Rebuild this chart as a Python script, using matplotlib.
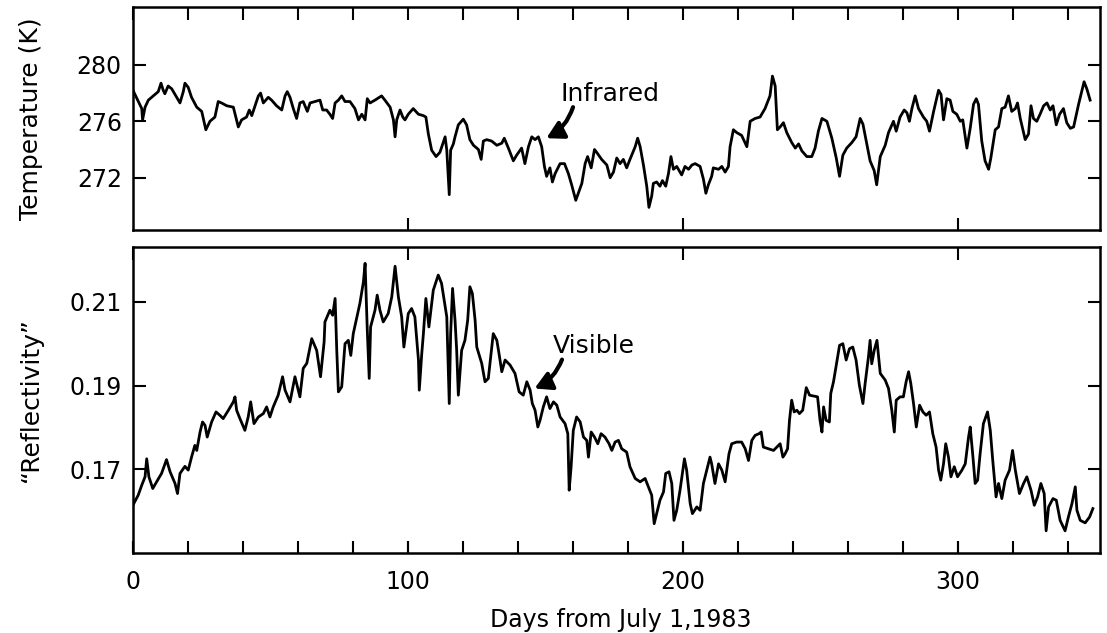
import matplotlib
matplotlib.use("Agg")
import matplotlib.pyplot as plt

# Infrared temperature (K)
ir_day = [
    0.0, 3.2, 3.5, 4.4, 5.6, 7.4, 9.2, 10.2, 11.0, 11.6,
    12.8, 14.1, 15.9, 17.1, 18.3, 18.9, 20.1, 21.3, 23.2, 25.0,
    26.5, 28.0, 29.8, 31.0, 32.2, 34.1, 36.5, 38.3, 39.5, 41.3,
    42.3, 43.2, 44.4, 45.6, 46.4, 47.4, 49.2, 50.4, 52.2, 54.1,
    55.3, 56.1, 57.1, 58.3, 59.5, 60.7, 61.9, 63.4, 64.4, 66.2,
    68.0, 69.0, 70.4, 71.6, 72.6, 73.5, 74.7, 75.9, 77.1, 78.9,
    80.7, 82.0, 83.2, 84.4, 85.2, 86.2, 88.0, 90.4, 91.6, 93.5,
    94.7, 95.3, 95.9, 97.1, 98.1, 98.9, 100.1, 101.9, 103.8, 105.6,
    106.5, 107.4, 108.6, 110.2, 111.6, 113.5, 114.1, 115.0, 115.5, 116.5,
    117.1, 118.3, 120.1, 121.3, 122.5, 123.8, 125.6, 126.6, 127.4, 128.6,
    130.4, 132.3, 134.1, 135.0, 136.5, 138.3, 139.5, 141.3, 142.5, 143.8,
    145.0, 146.2, 147.4, 148.6, 149.6, 150.4, 151.6, 152.5, 153.5, 155.3,
    156.9, 158.3, 159.5, 161.0, 161.9, 163.2, 164.4, 165.3, 166.6, 167.8,
    168.6, 170.4, 172.3, 173.5, 174.7, 175.9, 177.1, 178.3, 179.5, 180.7,
    182.6, 183.5, 184.4, 185.6, 186.8, 187.6, 188.6, 189.2, 190.4, 191.6,
    192.5, 193.7, 194.7, 195.6, 196.5, 197.7, 199.5, 200.7, 202.0, 203.2,
    204.4, 206.2, 207.4, 208.3, 209.2, 210.4, 211.0, 212.9, 214.1, 215.3,
    216.5, 217.1, 218.3, 219.5, 221.3, 223.2, 224.4, 226.2, 228.0, 229.8,
    231.6, 232.5, 233.5, 234.3,
    235.3, 236.5, 237.7, 239.5, 240.8, 242.0, 243.2, 245.0, 246.8, 248.0,
    249.2, 250.5, 252.3, 254.1, 255.7, 256.9, 258.1, 259.5, 261.4, 262.9,
    264.4, 265.4, 266.6, 268.0, 269.5, 270.4, 271.7, 273.5, 274.7, 276.5,
    277.5, 278.9, 280.4, 281.4, 282.3, 283.2, 284.4, 285.6, 287.4, 288.6,
    289.6, 291.1, 292.9, 293.8, 294.7, 295.9, 297.1, 298.1, 299.5, 300.8,
    301.7, 303.2, 304.4, 305.6, 306.6, 307.4, 308.6, 309.8, 311.1, 311.9,
    313.5, 314.7, 315.9, 317.1, 318.3, 319.5, 320.8, 321.6, 322.6, 324.4,
    325.6, 326.5, 327.4, 328.6, 329.8, 331.1, 332.3, 333.5, 334.5, 335.7,
    336.9, 338.3, 339.5, 340.8, 342.0, 343.8, 345.8, 346.8, 348.0,
]
ir_temp = [
    278.2, 276.9, 276.1, 277.0, 277.5, 277.8, 278.1, 278.7, 278.2, 277.95,
    278.5, 278.3, 277.7, 277.3, 278.1, 278.7, 278.4, 277.7, 277.0, 276.7,
    275.4, 276.0, 276.3, 277.4, 277.3, 277.1, 277.0, 275.6, 276.1, 276.3,
    276.8, 276.4, 277.1, 277.8, 278.0, 277.3, 277.7, 277.5, 277.1, 276.8,
    277.8, 278.1, 277.7, 276.9, 276.2, 277.3, 277.4, 276.7, 277.3, 277.4,
    277.5, 276.8, 276.8, 276.5, 276.2, 277.3, 277.5, 277.8, 277.4, 277.4,
    276.9, 276.1, 276.5, 276.1, 277.6, 277.3, 277.5, 277.8, 277.5, 277.0,
    276.1, 274.9, 276.1, 276.8, 276.3, 276.1, 276.5, 276.9, 276.5, 276.4,
    276.3, 275.1, 273.95, 273.5, 273.8, 274.9, 273.95, 270.8, 273.95, 274.4,
    274.9, 275.75, 276.15, 275.75, 274.7, 274.3, 274.0, 273.3, 274.6, 274.7,
    274.6, 274.3, 274.45, 274.8, 274.1, 273.2, 273.6, 274.1, 273.0, 274.2,
    274.9, 274.7, 274.9, 274.2, 272.8, 272.1, 272.7, 271.7, 272.3, 273.0,
    273.0, 272.3, 271.5, 270.4, 270.9, 271.6, 273.0, 273.5, 272.7, 274.0,
    273.8, 273.3, 272.9, 272.0, 272.4, 273.4, 273.0, 273.3, 272.7, 273.3,
    274.2, 274.8, 274.2, 272.9, 271.4, 269.9, 270.7, 271.6, 271.7, 271.4,
    271.8, 271.4, 272.3, 273.5, 272.6, 272.8, 272.2, 272.8, 272.6, 272.9,
    273.0, 272.8, 271.9, 270.9, 271.5, 272.1, 272.7, 272.6, 272.8, 272.4,
    272.8, 274.2, 275.4, 275.2, 275.0, 274.2, 276.0, 276.2, 276.3, 276.9,
    277.8, 279.2, 278.5, 275.4,
    275.6, 275.9, 275.2, 274.5, 274.1, 274.4, 273.9, 273.5, 273.5, 274.1,
    275.3, 276.2, 276.0, 274.8, 273.4, 272.1, 273.6, 274.1, 274.5, 274.9,
    276.2, 275.8, 274.6, 273.2, 272.5, 271.5, 273.5, 274.3, 275.2, 276.0,
    275.3, 276.3, 276.8, 276.6, 276.0, 276.9, 277.8, 276.9, 276.3, 276.0,
    275.3, 276.7, 278.2, 277.9, 276.1, 277.6, 277.5, 276.7, 276.5, 276.0,
    276.1, 274.1, 275.5, 277.2, 277.6, 277.2, 274.6, 273.2, 272.6, 273.4,
    275.4, 275.6, 276.9, 277.0, 277.8, 276.7, 276.9, 277.3, 276.2, 274.7,
    275.1, 277.1, 276.2, 276.0, 276.5, 277.1, 277.3, 276.8, 277.1, 275.75,
    276.5, 276.9, 275.9, 275.5, 275.6, 277.2, 278.8, 278.3, 277.5,
]

# Visible "reflectivity"
vis_day = [
    0.3, 1.9, 3.2, 4.4, 5.0, 5.8, 7.2, 8.6, 10.4, 12.2,
    13.5, 15.3, 16.2, 17.1, 18.9, 20.1, 21.3, 22.5, 23.2, 24.4,
    25.3, 26.2, 27.0, 28.6, 30.2, 31.6, 32.8, 34.7, 36.5, 37.1,
    37.7, 38.9, 40.7, 41.9, 42.8, 44.0, 45.6, 47.4, 48.6, 49.8,
    51.0, 52.8, 54.4, 55.3, 57.1, 58.9, 60.7, 61.9, 63.2, 65.0,
    66.8, 68.2, 69.5, 69.8, 71.6, 72.6, 73.5, 74.1, 74.7, 75.9,
    77.1, 78.3, 79.2, 80.1, 82.5, 83.8, 84.4, 85.2, 85.9, 86.4,
    88.0, 88.8, 89.8, 91.0, 92.8, 94.1, 95.3, 96.5, 97.7, 98.5,
    100.1, 101.3, 102.5, 103.8, 104.1, 105.0, 105.6, 106.5, 107.6, 109.2,
    111.0, 112.2, 114.1, 115.0, 115.5, 116.2,
    117.1, 117.7, 118.3, 119.5, 120.7, 121.7, 122.5, 123.4, 124.4, 125.0,
    126.8, 128.0, 129.2, 130.2, 131.0, 132.3, 133.1, 134.1, 135.3, 137.1,
    138.9, 140.4, 141.9, 143.2, 144.4, 145.2, 146.2, 147.2, 148.0, 149.2,
    150.4, 151.6, 152.9, 154.1, 155.3, 157.1, 158.1, 158.6, 159.3, 160.1,
    161.3, 162.6, 163.8, 165.0, 165.6, 166.6, 167.8, 169.0, 170.2, 171.6,
    173.1, 174.1, 175.3, 176.5, 177.7, 179.5, 180.7, 182.6, 184.4, 186.2,
    187.4, 188.6, 189.5, 190.4, 191.6, 192.9, 193.7, 194.9, 195.9, 196.7,
    197.7, 198.9, 200.5, 201.3, 202.6, 203.4, 205.0, 206.2, 207.4, 208.6,
    209.8, 210.4, 211.6, 212.9, 214.1, 215.3, 216.7, 217.7, 219.5, 221.3,
    222.6, 223.8, 225.0, 226.2, 227.6, 228.4, 229.2, 231.0, 232.9, 234.1,
    235.3, 236.3, 237.1, 238.0, 238.7, 239.5, 240.4, 241.4, 242.3, 243.5,
    244.8, 246.0, 247.4, 248.9, 249.8, 250.5, 251.1, 252.0, 253.2, 253.7,
    254.7, 255.7, 256.9, 258.1, 259.3, 260.5, 261.7, 262.9, 264.1, 265.4,
    266.2, 267.4, 268.0, 268.6, 269.5, 270.5, 271.7, 273.5, 274.7, 275.9,
    276.8, 277.5, 278.9, 280.1, 281.1, 282.0, 282.8, 283.8, 284.8, 286.0,
    287.2, 288.4, 289.6, 290.8, 292.0, 292.9, 293.7, 294.7, 295.5, 296.5,
    297.4, 298.6, 299.8, 301.4, 302.6, 303.8, 304.4, 305.4, 306.2, 307.1,
    308.0, 309.2, 310.7, 311.7, 312.6, 313.8, 314.7, 315.9, 317.1, 318.7,
    319.8, 320.8, 322.3, 323.8, 325.0, 326.5, 327.7, 328.9, 330.1, 331.3,
    332.0, 332.9, 334.5, 335.7, 337.1, 338.9, 340.1, 341.4, 342.6, 343.2,
    344.4, 346.2, 347.8, 349.0,
]
vis_refl = [
    0.1618, 0.1638, 0.1662, 0.1682, 0.1725, 0.1682, 0.1654, 0.1670, 0.1690, 0.1723,
    0.1694, 0.1666, 0.1642, 0.1690, 0.1707, 0.1698, 0.1729, 0.1757, 0.1745, 0.1789,
    0.1813, 0.1805, 0.1777, 0.1813, 0.1837, 0.1829, 0.1821, 0.1841, 0.1861, 0.1873,
    0.1841, 0.1821, 0.1793, 0.1825, 0.1861, 0.1809, 0.1825, 0.1833, 0.1849, 0.1825,
    0.1849, 0.1877, 0.1921, 0.1889, 0.1861, 0.1921, 0.1873, 0.1941, 0.1953, 0.2012,
    0.1984, 0.1921, 0.2004, 0.2052, 0.2080, 0.2068, 0.2108, 0.1984, 0.1885, 0.1897,
    0.2000, 0.2008, 0.1972, 0.2024, 0.2096, 0.2148, 0.2192, 0.2032, 0.1917, 0.2040,
    0.2080, 0.2116, 0.2080, 0.2052, 0.2072, 0.2112, 0.2185, 0.2112, 0.2064, 0.1992,
    0.2072, 0.2084, 0.2064, 0.1961, 0.1889, 0.1976, 0.2024, 0.2108, 0.2040, 0.2128,
    0.2164, 0.2144, 0.2064, 0.1857, 0.2024, 0.2132,
    0.2056, 0.1984, 0.1877, 0.1984, 0.2008, 0.2056, 0.2136, 0.2120, 0.2056, 0.1992,
    0.1953, 0.1909, 0.1917, 0.1976, 0.2024, 0.2008, 0.1976, 0.1933, 0.1961, 0.1949,
    0.1929, 0.1885, 0.1877, 0.1909, 0.1889, 0.1857, 0.1841, 0.1801, 0.1817, 0.1849,
    0.1873, 0.1845, 0.1861, 0.1853, 0.1825, 0.1809, 0.1785, 0.1650, 0.1706, 0.1793,
    0.1825, 0.1813, 0.1777, 0.1769, 0.1729, 0.1789, 0.1777, 0.1761, 0.1785, 0.1777,
    0.1761, 0.1745, 0.1765, 0.1769, 0.1749, 0.1741, 0.1706, 0.1678, 0.1670, 0.1678,
    0.1658, 0.1638, 0.1570, 0.1594, 0.1626, 0.1646, 0.1690, 0.1694, 0.1666, 0.1578,
    0.1602, 0.1650, 0.1725, 0.1698, 0.1618, 0.1594, 0.1610, 0.1602, 0.1666, 0.1698,
    0.1729, 0.1713, 0.1666, 0.1713, 0.1698, 0.1670, 0.1737, 0.1761, 0.1765, 0.1765,
    0.1749, 0.1721, 0.1769, 0.1781, 0.1785, 0.1789, 0.1753, 0.1749, 0.1745, 0.1753,
    0.1761, 0.1729, 0.1737, 0.1749, 0.1817, 0.1865, 0.1837, 0.1841, 0.1833, 0.1841,
    0.1895, 0.1877, 0.1875, 0.1873, 0.1817, 0.1789, 0.1849, 0.1817, 0.1813, 0.1881,
    0.1909, 0.1949, 0.1996, 0.2000, 0.1961, 0.1988, 0.1992, 0.1961, 0.1901, 0.1857,
    0.1905, 0.1968, 0.2008, 0.1952, 0.1984, 0.2008, 0.1929, 0.1913, 0.1893, 0.1841,
    0.1789, 0.1865, 0.1873, 0.1873, 0.1909, 0.1933, 0.1905, 0.1857, 0.1801, 0.1853,
    0.1837, 0.1829, 0.1837, 0.1785, 0.1753, 0.1698, 0.1674, 0.1713, 0.1761, 0.1729,
    0.1682, 0.1706, 0.1682, 0.1698, 0.1713, 0.1777, 0.1801, 0.1729, 0.1666, 0.1674,
    0.1737, 0.1809, 0.1837, 0.1793, 0.1721, 0.1634, 0.1666, 0.1630, 0.1674, 0.1698,
    0.1745, 0.1698, 0.1642, 0.1666, 0.1682, 0.1650, 0.1614, 0.1634, 0.1666, 0.1642,
    0.1553, 0.1610, 0.1630, 0.1626, 0.1578, 0.1553, 0.1586, 0.1618, 0.1658, 0.1602,
    0.1578, 0.1572, 0.1586, 0.1606,
]

temp_ticks = [272, 276, 280]
refl_ticks = [0.17, 0.19, 0.21]
day_ticks = [0, 100, 200, 300]
day_minor = list(range(0, 352, 20))

fig = plt.figure(figsize=(11.07, 6.33), dpi=100)
ax1 = fig.add_axes([0.1201, 0.6367, 0.8736, 0.3523])
ax2 = fig.add_axes([0.1201, 0.1264, 0.8736, 0.4834])

for ax in (ax1, ax2):
    for sp in ax.spines.values():
        sp.set_linewidth(1.8)
    ax.set_xlim(0, 351.6)
    ax.xaxis.remove_overlapping_locs = False
    ax.tick_params(which="both", direction="in", width=1.5, length=9,
                   labelsize=17, left=True, right=True)
    ax.tick_params(axis="y", pad=8)

# curved pointer arrows from the labels to the curves
arrow_style = dict(arrowstyle="-|>,head_length=0.5,head_width=0.28",
                   connectionstyle="arc3,rad=-0.2", lw=3,
                   color="black", mutation_scale=20, shrinkA=0, shrinkB=0)

# top panel
ax1.plot(ir_day, ir_temp, color="black", lw=2.0)
ax1.set_ylim(268.3, 284.1)
ax1.set_yticks(temp_ticks)
ax1.set_xticks(day_ticks[1:])
ax1.set_xticks(day_minor, minor=True)
ax1.tick_params(axis="x", which="major", bottom=True, top=False, labelbottom=False)
ax1.tick_params(axis="x", which="minor", bottom=False, top=True)
ax1.tick_params(axis="y", which="minor", left=False, right=False)
ax1.set_ylabel("Temperature (K)", fontsize=18)
ax1.yaxis.set_label_coords(-0.093, 0.5)

ax1.text(155.3, 277.95, "Infrared", fontsize=18, ha="left", va="center")
ax1.annotate("", xy=(150.3, 274.8), xytext=(160.0, 277.0), arrowprops=arrow_style)

# bottom panel
ax2.plot(vis_day, vis_refl, color="black", lw=2.0)
ax2.set_ylim(0.150, 0.2231)
ax2.set_yticks(refl_ticks)
ax2.set_yticklabels([f"{v:.2f}" for v in refl_ticks])
ax2.set_xticks(day_ticks)
ax2.set_xticks(day_minor, minor=True)
ax2.tick_params(axis="x", which="major", bottom=True, top=True, pad=12)
ax2.tick_params(axis="x", which="minor", bottom=True, top=False)
ax2.tick_params(axis="y", which="minor", left=False, right=False)
ax2.set_ylabel("\u201cReflectivity\u201d", fontsize=18)
ax2.yaxis.set_label_coords(-0.093, 0.5)
ax2.set_xlabel("Days from July 1,1983", fontsize=17)
ax2.xaxis.set_label_coords(0.504, -0.18)
ax2.xaxis.label.set_va("top")

ax2.text(152.7, 0.1995, "Visible", fontsize=18, ha="left", va="center")
ax2.annotate("", xy=(146.0, 0.1893), xytext=(156.0, 0.1962), arrowprops=arrow_style)

fig.savefig("out.png", dpi=100)
